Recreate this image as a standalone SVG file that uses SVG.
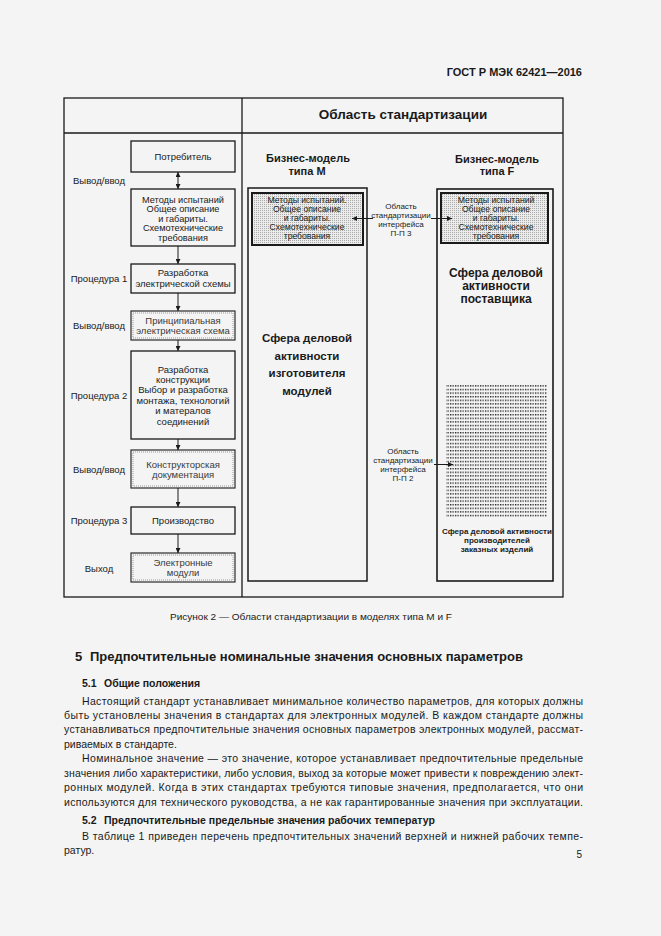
<svg xmlns="http://www.w3.org/2000/svg" width="661" height="936" viewBox="0 0 661 936">
<style>
text{font-family:"Liberation Sans",Arial,sans-serif;fill:#1a1a1a}
.s{font-size:9.5px;text-anchor:middle}
.si{font-size:8.6px;text-anchor:middle}
.lab{font-size:9.5px;text-anchor:middle}
.sm{font-size:8px;text-anchor:middle}
.b11{font-size:11px;font-weight:bold;text-anchor:middle}
.b12{font-size:11.5px;font-weight:bold;text-anchor:middle}
.b8{font-size:8px;font-weight:bold;text-anchor:middle}
.body{font-size:10.5px}
.box{fill:none;stroke:#1a1a1a;stroke-width:1.3}
.dbox{fill:none;stroke:#2a2a2a;stroke-width:1.2}
.dinner{fill:none;stroke:#9a9a9a;stroke-width:1;stroke-dasharray:1 1}
.gt{fill:#3a3a3a}
.frame{fill:none;stroke:#1a1a1a;stroke-width:1.3}
.con{stroke:#1a1a1a;stroke-width:1;fill:none}
</style>
<defs>
<marker id="ah" viewBox="0 0 6 6" refX="6" refY="3" markerWidth="5" markerHeight="5" markerUnits="userSpaceOnUse" orient="auto-start-reverse">
<path d="M0,0 L6,3 L0,6 z" fill="#1a1a1a"/>
</marker>
<pattern id="fine" patternUnits="userSpaceOnUse" width="2" height="2">
<rect width="2" height="2" fill="#ececec"/>
<rect width="1" height="1" fill="#a8a8a8"/>
</pattern>
<pattern id="dots" patternUnits="userSpaceOnUse" width="2.5" height="3.6">
<rect width="1.3" height="1.4" fill="#222"/>
</pattern>
</defs>
<rect width="661" height="936" fill="#f4f4f4"/>

<text x="582" y="76" text-anchor="end" style="font-size:11px;font-weight:bold">ГОСТ Р МЭК 62421—2016</text>

<g id="frame">
<rect class="frame" x="64" y="98" width="499" height="499"/>
<line class="frame" x1="64" y1="133" x2="563" y2="133"/>
<line class="frame" x1="242" y1="98" x2="242" y2="597"/>
<text x="403" y="119" text-anchor="middle" style="font-size:13.5px;font-weight:bold">Область стандартизации</text>
</g>

<g id="labels">
<text class="lab" x="99" y="183.5">Вывод/ввод</text>
<text class="lab" x="99" y="281.5">Процедура 1</text>
<text class="lab" x="99" y="328.5">Вывод/ввод</text>
<text class="lab" x="99" y="398.5">Процедура 2</text>
<text class="lab" x="99" y="472.5">Вывод/ввод</text>
<text class="lab" x="99" y="523.5">Процедура 3</text>
<text class="lab" x="99" y="571.5">Выход</text>
</g>

<g id="consumer">
<rect class="box" x="131" y="141" width="104" height="31"/>
<text class="s" x="183" y="159.5">Потребитель</text>
</g>
<g id="methods">
<rect class="box" x="131" y="189" width="104" height="57"/>
<text class="si" x="183" y="202.5" style="font-size:9.2px">Методы испытаний</text>
<text class="si" x="183" y="212" style="font-size:9.2px">Общее описание</text>
<text class="si" x="183" y="221.5" style="font-size:9.2px">и габариты.</text>
<text class="si" x="183" y="231" style="font-size:9.2px">Схемотехнические</text>
<text class="si" x="183" y="240.5" style="font-size:9.2px">требования</text>
</g>
<g id="proc1">
<rect class="box" x="131" y="264" width="104" height="29"/>
<text class="s" x="183" y="276">Разработка</text>
<text class="s" x="183" y="286.5">электрической схемы</text>
</g>
<g id="schematic">
<rect class="dbox" x="131" y="311" width="104" height="29"/>
<rect class="dinner" x="133" y="313" width="100" height="25"/>
<text class="s gt" x="183" y="323.5">Принципиальная</text>
<text class="s gt" x="183" y="333.5">электрическая схема</text>
</g>
<g id="proc2">
<rect class="box" x="131" y="351" width="104" height="88"/>
<text class="s" x="183" y="372.5">Разработка</text>
<text class="s" x="183" y="382.5">конструкции</text>
<text class="s" x="183" y="393">Выбор и разработка</text>
<text class="s" x="183" y="403.5">монтажа, технологий</text>
<text class="s" x="183" y="414">и матералов</text>
<text class="s" x="183" y="424.5">соединений</text>
</g>
<g id="designdoc">
<rect class="dbox" x="131" y="450" width="104" height="38"/>
<rect class="dinner" x="133" y="452" width="100" height="34"/>
<text class="s gt" x="183" y="467.5">Конструкторская</text>
<text class="s gt" x="183" y="477.5">документация</text>
</g>
<g id="production">
<rect class="box" x="131" y="507" width="104" height="27"/>
<text class="s" x="183" y="523.5">Производство</text>
</g>
<g id="modules">
<rect class="dbox" x="131" y="553" width="104" height="29"/>
<rect class="dinner" x="133" y="555" width="100" height="25"/>
<text class="s gt" x="183" y="565.5">Электронные</text>
<text class="s gt" x="183" y="575.5">модули</text>
</g>

<g id="modelM">
<text class="b11" x="308" y="162">Бизнес-модель</text>
<text class="b11" x="307" y="175">типа М</text>
<rect class="frame" x="248" y="188" width="119" height="393" style="stroke-width:1.5"/>
<rect x="252" y="193" width="111" height="52" fill="url(#fine)" stroke="#1a1a1a" stroke-width="2"/>
<text class="si" x="307" y="203">Методы испытаний.</text>
<text class="si" x="307" y="212">Общее описание</text>
<text class="si" x="307" y="221">и габариты.</text>
<text class="si" x="307" y="230">Схемотехнические</text>
<text class="si" x="307" y="239">требования</text>
<text class="b12" x="307" y="342">Сфера деловой</text>
<text class="b12" x="307" y="360">активности</text>
<text class="b12" x="307" y="377">изготовителя</text>
<text class="b12" x="307" y="395">модулей</text>
</g>

<g id="modelF">
<text class="b11" x="497" y="163">Бизнес-модель</text>
<text class="b11" x="497" y="175">типа F</text>
<rect class="frame" x="437" y="189" width="116" height="392" style="stroke-width:1.6"/>
<rect x="441" y="193" width="107" height="50" fill="url(#fine)" stroke="#1a1a1a" stroke-width="2"/>
<text class="si" x="496" y="203">Методы испытаний</text>
<text class="si" x="496" y="212">Общее описание</text>
<text class="si" x="496" y="221">и габариты.</text>
<text class="si" x="496" y="230">Схемотехнические</text>
<text class="si" x="496" y="239">требования</text>
<text class="b12" x="496" y="277" style="font-size:12px">Сфера деловой</text>
<text class="b12" x="496" y="290" style="font-size:12px">активности</text>
<text class="b12" x="496" y="303" style="font-size:12px">поставщика</text>
<rect x="446" y="385" width="101" height="132" fill="url(#dots)"/>
<text class="b8" x="497" y="534">Сфера деловой активности</text>
<text class="b8" x="497" y="543">производителей</text>
<text class="b8" x="497" y="552">заказных изделий</text>
</g>

<g id="iface3">
<text class="sm" x="401" y="209">Область</text>
<text class="sm" x="401" y="218">стандартизации</text>
<text class="sm" x="401" y="226.5">интерфейса</text>
<text class="sm" x="401" y="236">П-П 3</text>
</g>
<g id="iface2">
<text class="sm" x="403" y="454">Область</text>
<text class="sm" x="403" y="463">стандартизации</text>
<text class="sm" x="403" y="472">интерфейса</text>
<text class="sm" x="403" y="481">П-П 2</text>
</g>

<g id="connectors">
<line class="con" x1="178" y1="172" x2="178" y2="189" marker-start="url(#ah)" marker-end="url(#ah)"/>
<line class="con" x1="178" y1="246" x2="178" y2="264" marker-end="url(#ah)"/>
<line class="con" x1="178" y1="293" x2="178" y2="311" marker-end="url(#ah)"/>
<line class="con" x1="178" y1="340" x2="178" y2="351" marker-end="url(#ah)"/>
<line class="con" x1="178" y1="439" x2="178" y2="450" marker-end="url(#ah)"/>
<line class="con" x1="178" y1="488" x2="178" y2="507" marker-end="url(#ah)"/>
<line class="con" x1="178" y1="534" x2="178" y2="553" marker-end="url(#ah)"/>
<line class="con" x1="373" y1="218.5" x2="352" y2="218.5" marker-end="url(#ah)"/>
<line class="con" x1="431" y1="218.5" x2="452" y2="218.5" marker-end="url(#ah)"/>
<line class="con" x1="434" y1="464.5" x2="453" y2="464.5" marker-end="url(#ah)"/>
</g>

<text x="170" y="620" style="font-size:9.5px" textLength="282" lengthAdjust="spacingAndGlyphs">Рисунок 2 — Области стандартизации в моделях типа М и F</text>

<text x="75" y="661" style="font-size:13px;font-weight:bold">5<tspan x="90">Предпочтительные номинальные значения основных параметров</tspan></text>
<text x="82" y="687" style="font-size:10.5px;font-weight:bold">5.1<tspan x="104">Общие положения</tspan></text>
<text class="body" x="82" y="704.5" textLength="501" lengthAdjust="spacing">Настоящий стандарт устанавливает минимальное количество параметров, для которых должны</text>
<text class="body" x="64" y="718.5" textLength="519" lengthAdjust="spacing">быть установлены значения в стандартах для электронных модулей. В каждом стандарте должны</text>
<text class="body" x="64" y="733" textLength="519" lengthAdjust="spacing">устанавливаться предпочтительные значения основных параметров электронных модулей, рассмат-</text>
<text class="body" x="64" y="747.5">риваемых в стандарте.</text>
<text class="body" x="82" y="762" textLength="501" lengthAdjust="spacing">Номинальное значение — это значение, которое устанавливает предпочтительные предельные</text>
<text class="body" x="64" y="776.5" textLength="519" lengthAdjust="spacing">значения либо характеристики, либо условия, выход за которые может привести к повреждению элект-</text>
<text class="body" x="64" y="791" textLength="519" lengthAdjust="spacing">ронных модулей. Когда в этих стандартах требуются типовые значения, предполагается, что они</text>
<text class="body" x="64" y="805.5" textLength="519" lengthAdjust="spacing">используются для технического руководства, а не как гарантированные значения при эксплуатации.</text>
<text x="82" y="823.5" style="font-size:10.5px;font-weight:bold">5.2<tspan x="104">Предпочтительные предельные значения рабочих температур</tspan></text>
<text class="body" x="82" y="839.5" textLength="501" lengthAdjust="spacing">В таблице 1 приведен перечень предпочтительных значений верхней и нижней рабочих темпе-</text>
<text class="body" x="64" y="854">ратур.</text>
<text x="582" y="858" text-anchor="end" style="font-size:10px">5</text>
</svg>
